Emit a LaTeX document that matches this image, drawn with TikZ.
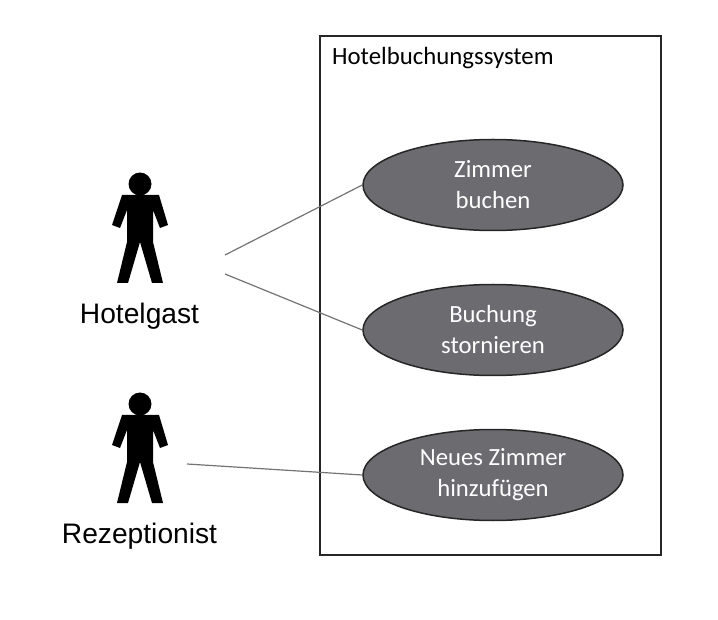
\documentclass[tikz,border=0pt]{standalone}
\usepackage{xcolor}
\usepackage{fontspec}
\setmainfont{Carlito}
\newfontfamily\actorfont{Liberation Sans}
\usetikzlibrary{shapes.geometric}
\definecolor{usecasegray}{HTML}{6C6B70}

\begin{document}
\begin{tikzpicture}[
    x=1pt, y=-1pt,
    usecase/.style={draw=black!85, line width=1.5pt, ellipse, fill=usecasegray, text=white, align=center, minimum width=260pt, minimum height=91pt, inner sep=0pt, font=\fontsize{24.7}{31}\selectfont},
    actorlabel/.style={font=\actorfont\fontsize{28.2}{30}\selectfont, inner sep=0pt},
    link/.style={draw=black!55, line width=1.2pt},
    actor/.pic={
      \fill (0,0) circle (11.5);
      \fill (-18,11) -- (19,11) -- (28,41) -- (20,44) -- (13,26) -- (13,58) -- (23,99) -- (12,99)
        -- (0,58) -- (-12,99) -- (-23,99) -- (-13,58) -- (-13,26) -- (-20,44) -- (-28,41) -- cycle;
    }
  ]
    \useasboundingbox (0,0) rectangle (718,620);
    \node[draw=black!85, line width=1.5pt, minimum width=341pt, minimum height=519pt, inner sep=0pt] (system) at (490.5,295.5) {};
    \node[anchor=west, inner sep=0pt, font=\fontsize{24.8}{26}\selectfont] (title) at (332,58) {Hotelbuchungssystem};

    \node[usecase] (zimmer) at (493,185) {Zimmer\\buchen};
    \node[usecase] (storno) at (493,330) {Buchung\\stornieren};
    \node[usecase] (neu) at (493,475) {Neues Zimmer\\hinzuf\"ugen};

    \pic at (140,184) {actor};
    \pic at (140,404) {actor};
    \node[actorlabel] (gast) at (139.5,316) {Hotelgast};
    \node[actorlabel] (rezeption) at (139.5,536) {Rezeptionist};

    \coordinate (gastA) at (225,255);
    \coordinate (gastB) at (225,274);
    \coordinate (rezA) at (187,464);
    \draw[link] (gastA) -- (zimmer.west);
    \draw[link] (gastB) -- (storno.west);
    \draw[link] (rezA) -- (neu.west);
  \end{tikzpicture}
\end{document}
